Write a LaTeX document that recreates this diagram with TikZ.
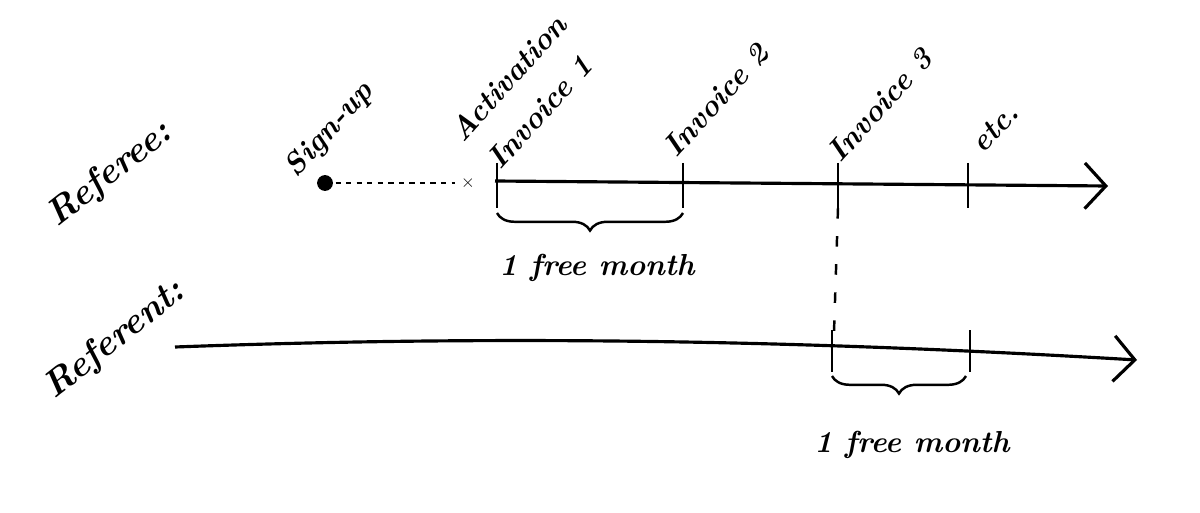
\documentclass[tikz,border=0pt]{standalone}
\usetikzlibrary{arrows.meta,decorations.pathreplacing}
\begin{document}
\begin{tikzpicture}[x=0.02cm,y=-0.02cm]
        % Styles
        \tikzset{hand/.style={font=\itshape\LARGE\bfseries},
                 axis/.style={line width=1.8pt,-{Straight Barb[length=12pt,width=26pt,line width=1.8pt]}},
                 tick/.style={line width=1.6pt},
                 brace/.style={line width=1.4pt,decorate,decoration={brace,mirror,amplitude=10pt}}}
        \useasboundingbox (0,0) rectangle (1200,513);

        % Étiquettes des lignes
        \node[hand,rotate=38,font=\itshape\bfseries\huge] (referee) at (110,175) {Referee:};
        \node[hand,rotate=38,font=\itshape\bfseries\huge] (referent) at (115,340) {Referent:};

        % Ligne du filleul
        \coordinate (s0) at (495,181);
        \coordinate (s1) at (1108,186);
        \draw[axis] (s0) -- (s1);
        \fill (325,183) circle (4.5pt) coordinate (signup);
        \node (act) at (468,183) {$\times$};
        \draw[line width=1.4pt,dashed] (signup) -- (act);
        \node[hand,rotate=48] (tsign) at (330,130) {Sign-up};
        \node[hand,rotate=48] (tact) at (508,78) {Activation};
        \node[hand,rotate=48] (tinv1) at (540,112) {Invoice 1};
        \node[hand,rotate=48] (tinv2) at (716,100) {Invoice 2};
        \node[hand,rotate=48] (tinv3) at (880,105) {Invoice 3};
        \node[hand,rotate=48] (tetc) at (995,128) {etc.};

        % Graduations
        \foreach \x/\n in {497/a,683/b,838/c,968/d}{
            \draw[tick] (\x,163) -- (\x,208) coordinate (t\n);
        }
        \draw[brace] (497,213) -- (683,213);
        \node[hand] (free1) at (597,268) {1 free month};

        % Lien vers le parrain
        \coordinate (r3) at (834,332);
        \draw[line width=1.4pt,dash pattern=on 6pt off 10pt] (tc) -- (r3);

        % Ligne du parrain
        \coordinate (p0) at (175,347);
        \coordinate (p1) at (1137,360);
        \draw[axis] (p0) .. controls (500,335) and (800,340) .. (p1);
        \foreach \x in {832,970}{
            \draw[tick] (\x,330) -- (\x,372);
        }
        \draw[brace] (832,376) -- (966,376);
        \node[hand] (free2) at (912,445) {1 free month};
\end{tikzpicture}
\end{document}
